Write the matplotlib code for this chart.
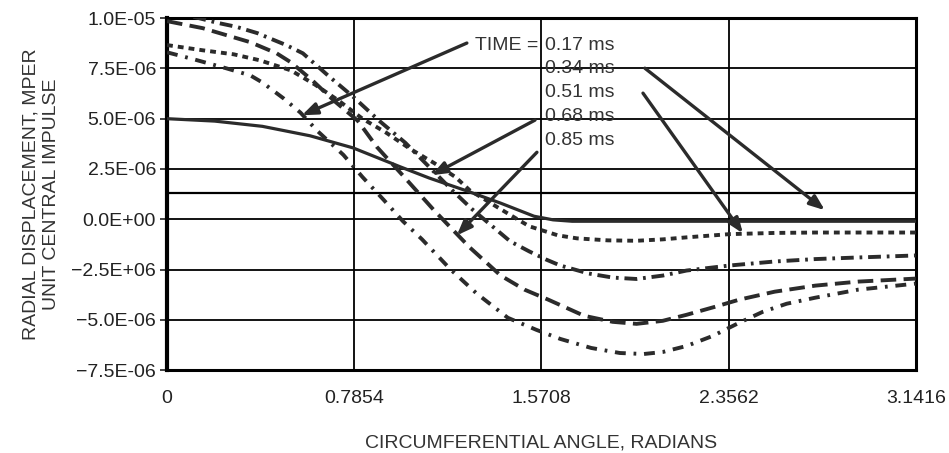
import matplotlib
matplotlib.use("Agg")
import matplotlib.pyplot as plt
from matplotlib.ticker import FixedLocator, FixedFormatter

plt.rcParams["font.family"] = ["Liberation Sans", "DejaVu Sans"]

INK = "#2b2b2b"
TXT = "#333333"
FS = 14

# curves (angle in radians, displacement in units of 1e-6)
x_017 = [0, 0.2, 0.4, 0.6, 0.78, 0.98, 1.1, 1.26, 1.40, 1.54, 1.62, 1.7, 3.1416]
v_017 = [5.0, 4.88, 4.62, 4.15, 3.55, 2.6, 2.05, 1.4, 0.8, 0.15, -0.03, -0.1, -0.1]

x_034 = [0, 0.15, 0.28, 0.39, 0.52, 0.62, 0.72, 0.82, 0.92, 1.02, 1.12, 1.21, 1.27,
         1.40, 1.47, 1.52, 1.64, 1.72, 1.85, 1.97, 2.08, 2.18, 2.36, 2.55, 2.72, 3.1416]
v_034 = [8.66, 8.4, 8.2, 7.9, 7.4, 6.7, 5.9, 5.0, 4.3, 3.5, 2.8, 2.1, 1.44,
         0.5, 0.0, -0.35, -0.8, -0.95, -1.05, -1.07, -1.0, -0.9, -0.74, -0.68, -0.66, -0.66]

x_051 = [0, 0.1, 0.21, 0.29, 0.38, 0.43, 0.50, 0.57, 0.68, 0.78, 0.89, 1.0, 1.1, 1.2,
         1.28, 1.37, 1.44, 1.52, 1.59, 1.65, 1.77, 1.87, 1.97, 2.08, 2.18, 2.36, 2.55,
         2.72, 2.9, 3.1416]
v_051 = [10.4, 10.1, 9.77, 9.57, 9.25, 9.0, 8.66, 8.25, 7.1, 6.1, 4.9, 3.8, 2.6, 1.4,
         0.5, -0.4, -1.1, -1.6, -2.0, -2.3, -2.7, -2.9, -2.97, -2.8, -2.55, -2.3, -2.1,
         -1.98, -1.9, -1.8]

x_068 = [0, 0.15, 0.25, 0.35, 0.46, 0.52, 0.61, 0.70, 0.80, 0.88, 0.98, 1.12, 1.27,
         1.40, 1.5, 1.60, 1.75, 1.87, 1.97, 2.08, 2.18, 2.3, 2.40, 2.55, 2.72, 2.9, 3.1416]
v_068 = [9.85, 9.5, 9.15, 8.8, 8.25, 7.8, 6.9, 5.9, 4.9, 3.6, 2.3, 0.45, -1.4,
         -2.8, -3.5, -4.0, -4.8, -5.1, -5.2, -5.05, -4.75, -4.35, -4.0, -3.6, -3.3, -3.1, -2.95]

x_085 = [0, 0.11, 0.25, 0.35, 0.40, 0.49, 0.56, 0.63, 0.74, 0.82, 0.91, 0.99, 1.07,
         1.19, 1.30, 1.43, 1.55, 1.65, 1.78, 1.9, 2.0, 2.08, 2.18, 2.29, 2.4, 2.5, 2.6,
         2.72, 2.9, 3.1416]
v_085 = [8.3, 7.96, 7.5, 7.15, 6.8, 6.0, 5.3, 4.4, 3.2, 2.1, 0.95, -0.1, -1.0,
         -2.5, -3.7, -4.9, -5.5, -5.95, -6.4, -6.65, -6.7, -6.6, -6.3, -5.8, -5.15, -4.6, -4.2,
         -3.9, -3.5, -3.2]

extra_level = 1.3  # stray horizontal rule in the original, units of 1e-6

x_ticks = [0, 0.7854, 1.5708, 2.3562, 3.1416]
x_tick_labels = ["0", "0.7854", "1.5708", "2.3562", "3.1416"]
y_ticks = [10.0, 7.5, 5.0, 2.5, 0.0, -2.5, -5.0, -7.5]
y_tick_labels = ["1.0E-05", "7.5E-06", "5.0E-06", "2.5E-06", "0.0E+00",
                 "\u22122.5E+06", "\u22125.0E-06", "\u22127.5E-06"]

times = ["0.17 ms", "0.34 ms", "0.51 ms", "0.68 ms", "0.85 ms"]
# arrow tails and heads (angle, displacement) in the order 0.17 .. 0.85
arrow_tail = [(1.258, 8.76), (2.005, 7.51), (1.997, 6.27), (1.544, 4.93), (1.552, 3.33)]
arrow_head = [(0.566, 5.17), (2.76, 0.45), (2.416, -0.7), (1.11, 2.19), (1.216, -0.8)]

fig = plt.figure(figsize=(9.49, 4.53), dpi=100)
ax = fig.add_axes([0.176, 0.183, 0.789, 0.777])

lw = 2.8
ax.plot(x_017, v_017, color=INK, lw=2.3, ls="-", zorder=4)
ax.plot(x_034, v_034, color=INK, lw=lw, ls=(0, (1.5, 1.3)), zorder=4)
ax.plot(x_051, v_051, color=INK, lw=lw, ls=(0, (3.3, 1.5, 0.7, 1.5)), zorder=4)
ax.plot(x_068, v_068, color=INK, lw=lw, ls=(0, (4.0, 1.9)), zorder=4)
ax.plot(x_085, v_085, color=INK, lw=lw, ls=(0, (2.8, 2.0, 0.7, 2.0)), zorder=4)

ax.axhline(extra_level, color="black", lw=1.6, zorder=2)

ax.set_xlim(0, 3.1416)
ax.set_ylim(-7.5, 10.0)
ax.xaxis.set_major_locator(FixedLocator(x_ticks))
ax.xaxis.set_major_formatter(FixedFormatter(x_tick_labels))
ax.yaxis.set_major_locator(FixedLocator(y_ticks))
ax.yaxis.set_major_formatter(FixedFormatter(y_tick_labels))
ax.grid(True, color="black", lw=1.3, zorder=1)
ax.set_axisbelow(True)
ax.tick_params(axis="both", labelsize=FS, colors="#222222", length=5, width=1.2)
ax.tick_params(axis="x", length=0, pad=14)
ax.tick_params(axis="y", pad=3)
for side, w in [("left", 3.0), ("top", 2.2), ("right", 2.2), ("bottom", 2.2)]:
    ax.spines[side].set_linewidth(w)
    ax.spines[side].set_color("black")

ax.set_ylabel("RADIAL DISPLACEMENT, MPER\nUNIT CENTRAL IMPULSE", fontsize=FS,
              color=TXT, labelpad=8, linespacing=1.25)
ax.set_xlabel("CIRCUMFERENTIAL ANGLE, RADIANS", fontsize=FS, color=TXT, labelpad=20)

# labels of the arrows, stacked to the right of the middle grid line
ax.text(1.556, 8.66, "TIME =", fontsize=FS, color=TXT, ha="right", va="center", zorder=3)
for i, t in enumerate(times):
    ax.text(1.586, 8.66 - i * 1.18, t, fontsize=FS, color=TXT, ha="left",
            va="center", zorder=1.5)
for tail, head in zip(arrow_tail, arrow_head):
    ax.annotate("", xy=head, xytext=tail,
                arrowprops=dict(arrowstyle="-|>,head_length=0.9,head_width=0.35",
                                color=INK, lw=2.4, shrinkA=0, shrinkB=0), zorder=5)

fig.savefig("out.png", dpi=100)
